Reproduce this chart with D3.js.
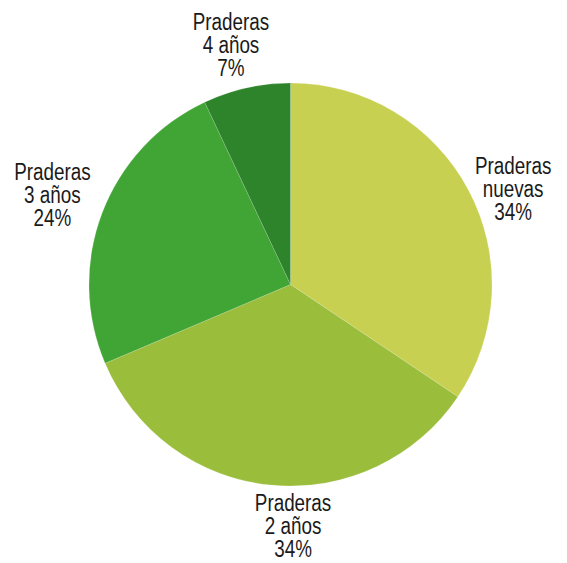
<!DOCTYPE html>
<html>
<head>
<meta charset="utf-8">
<style type="text/css">
	body { margin: 0; background: #fff; }
	.label {
		font-family: "Liberation Sans", Arial, sans-serif;
		font-size: 23px;
		fill: #1a1a1a;
	}
	.slice { stroke: #fff; stroke-width: 0.15; }
</style>
<script src="https://d3js.org/d3.v7.min.js"></script>
</head>
<body>
<script type="text/javascript">

var categories = ["Praderas\nnuevas", "Praderas\n2 años", "Praderas\n3 años", "Praderas\n4 años"];
var values = [34.4, 34.2, 24.4, 7.0];
var colors = ["#c8d052", "#9bbd3c", "#41a535", "#2e842b"];

var width = 567, height = 563;
var cx = 290.5, cy = 284.5, radius = 201.5;

// angular nudge (degrees) and distance of each label from the centre
var labelNudge = [5, -6, -0.5, -1.4];
var labelDist = [242, 243, 254, 246];
var lineH = 23;
var narrow = 0.82; // squeeze to mimic a narrow face

var data = categories.map(function(c, i) {
	return { name: c, value: values[i], color: colors[i], i: i };
});

var pie = d3.pie().sort(null).value(function(d) { return d.value; });
var arc = d3.arc().innerRadius(0).outerRadius(radius);

var svg = d3.select("body")
	.append("svg")
		.attr("width", width)
		.attr("height", height);

var g = svg.append("g")
	.attr("transform", "translate(" + cx + "," + cy + ")");

var arcs = pie(data);

g.selectAll("path.slice")
	.data(arcs)
	.enter()
	.append("path")
		.attr("class", "slice")
		.attr("fill", function(d) { return d.data.color; })
		.attr("d", arc);

var labels = g.selectAll("text.label")
	.data(arcs)
	.enter()
	.append("text")
		.attr("class", "label")
		.attr("text-anchor", "middle")
		.attr("transform", function(d) {
			var a = (d.startAngle + d.endAngle) / 2 + labelNudge[d.data.i] * Math.PI / 180;
			var r = labelDist[d.data.i];
			return "translate(" + (r * Math.sin(a)) + "," + (-r * Math.cos(a)) + ") scale(" + narrow + ",1)";
		});

labels.each(function(d) {
	var lines = d.data.name.split("\n").concat([Math.round(d.data.value) + "%"]);
	var t = d3.select(this);
	lines.forEach(function(l, k) {
		t.append("tspan")
			.attr("x", 0)
			.attr("y", (k - (lines.length - 1) / 2) * lineH + 7)
			.text(l);
	});
});

</script>
</body>
</html>
